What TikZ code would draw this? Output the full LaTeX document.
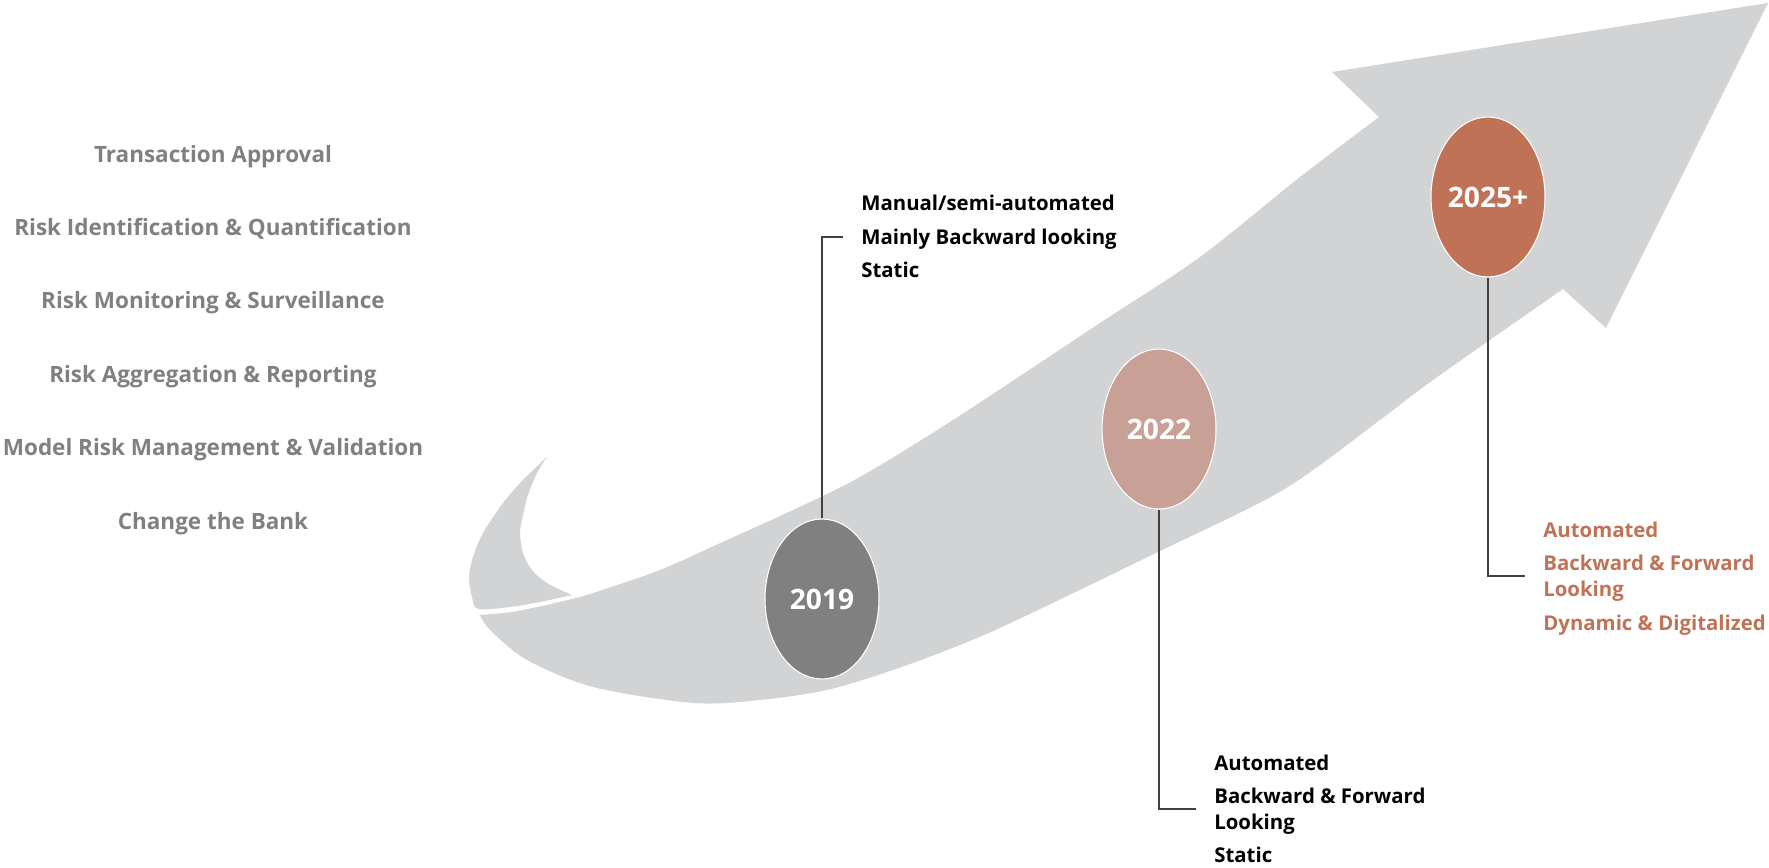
\documentclass[tikz,border=0pt]{standalone}
\usepackage{fontspec}
\setmainfont{Open Sans}
\usepackage{tikz}
\usepackage{xcolor}
\usetikzlibrary{shapes.geometric, positioning}
\definecolor{arrow-gray}{RGB}{209,211,212}
\definecolor{list-gray}{RGB}{128,128,128}
\definecolor{year-gray}{RGB}{128,128,128}
\definecolor{year-rose}{RGB}{201,160,149}
\definecolor{year-rust}{RGB}{192,114,86}
\definecolor{link-gray}{RGB}{64,64,64}

\begin{document}
\begin{tikzpicture}[
  x=0.02cm, y=-0.02cm,
  area/.style={text=list-gray, inner sep=0pt, text depth=0pt, font=\fontsize{12.8}{15}\selectfont\bfseries},
  year/.style={ellipse, draw=white, line width=0.6pt, minimum width=2.28cm, minimum height=3.2cm, inner sep=0pt, text=white, font=\fontsize{16}{18}\selectfont\bfseries},
  note/.style={anchor=west, inner xsep=0.36cm, inner ysep=0pt, text depth=0pt, align=left, font=\fontsize{11.6}{14.8}\selectfont\bfseries},
  link/.style={draw=link-gray, line width=0.7pt},
]
  \useasboundingbox (0,0) rectangle (1769,868);

  % Functions on the left
  \node[area] (approval) at (213,154) {Transaction Approval};
  \node[area] (identification) at (213,227) {Risk Identification \& Quantification};
  \node[area] (monitoring) at (213,300) {Risk Monitoring \& Surveillance};
  \node[area] (aggregation) at (213,374) {Risk Aggregation \& Reporting};
  \node[area] (modelrisk) at (213,447) {Model Risk Management \& Validation};
  \node[area] (changebank) at (213,521) {Change the Bank};

  % Big curved arrow: hook at the tail
  \fill[arrow-gray] (547,457)
    -- plot[smooth] coordinates {(547,457) (523,480) (503,503) (483,533) (473,557) (469,577) (472,597) (478,609) (510,607) (540,602) (572,595)}
    -- plot[smooth] coordinates {(572,595) (547,583) (532,570) (523,553) (520,533) (522,520) (528,495) (537,473) (547,457)}
    -- cycle;

  % Big curved arrow: shaft and head
  \fill[arrow-gray]
    plot[smooth] coordinates {(480,615) (512,612) (542,606) (572,599) (593,593) (660,570) (727,540) (793,510) (860,477) (953,420) (1100,323) (1200,257) (1300,177) (1379,117)}
    -- (1332,72) -- (1768,3) -- (1606,328) -- (1563,289)
    -- plot[smooth] coordinates {(1563,289) (1433,380) (1380,420) (1283,490) (1158,552) (1017,620) (960,645) (893,670) (827,690) (760,700) (693,703) (593,687) (527,660) (490,630) (480,615)}
    -- cycle;

  % Milestones
  \node[year, fill=year-gray] (y19) at (822,599) {2019};
  \node[year, fill=year-rose] (y22) at (1159,429) {2022};
  \node[year, fill=year-rust] (y25) at (1488,197) {2025+};

  % 2019
  \node[note] (n19a) at (843,203) {Manual/semi-automated};
  \node[note] (n19b) at (843,237) {Mainly Backward looking};
  \node[note] (n19c) at (843,270) {Static};
  \draw[link] (y19.north) |- (n19b.west);

  % 2022
  \node[note] (n22a) at (1196,763) {Automated};
  \node[note] (n22b) at (1196,809) {Backward \& Forward\\Looking};
  \node[note] (n22c) at (1196,855) {Static};
  \draw[link] (y22.south) |- (n22b.west);

  % 2025+
  \node[note, text=year-rust] (n25a) at (1525,530) {Automated};
  \node[note, text=year-rust] (n25b) at (1525,576) {Backward \& Forward\\Looking};
  \node[note, text=year-rust] (n25c) at (1525,623) {Dynamic \& Digitalized};
  \draw[link] (y25.south) |- (n25b.west);
\end{tikzpicture}
\end{document}
